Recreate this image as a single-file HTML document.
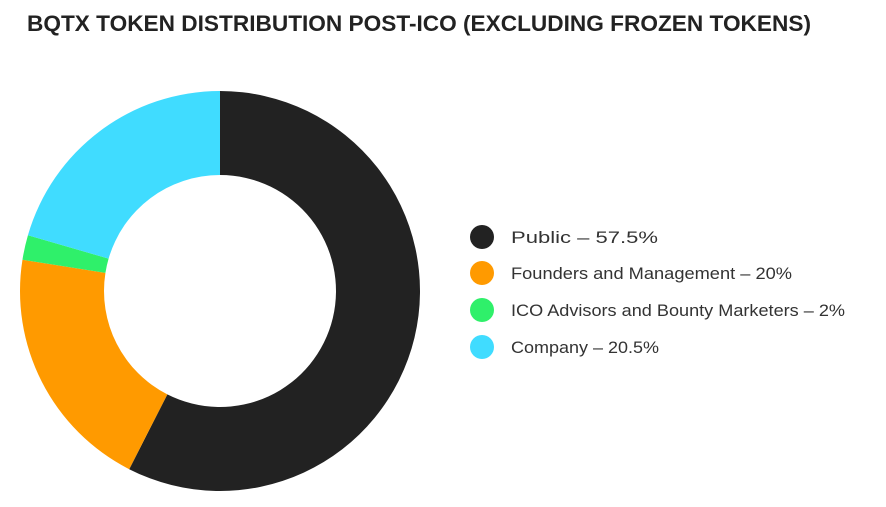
<!DOCTYPE html>
<html><head><meta charset="utf-8"><style>
html,body{margin:0;padding:0;background:#fff;}
svg{display:block;}
</style></head><body>
<svg width="886" height="507" viewBox="0 0 886 507" xmlns="http://www.w3.org/2000/svg">
<text x="27" y="31" font-family="Liberation Sans, sans-serif" font-weight="bold" font-size="22" fill="#222" textLength="784" lengthAdjust="spacingAndGlyphs">BQTX TOKEN DISTRIBUTION POST-ICO (EXCLUDING FROZEN TOKENS)</text>
<path d="M220,91 A200,200 0 1 1 129.2,469.2 L167.34,394.36 A116,116 0 1 0 220,175 Z" fill="#222222"/>
<path d="M129.2,469.2 A200,200 0 0 1 22.46,259.72 L105.43,272.86 A116,116 0 0 0 167.34,394.36 Z" fill="#ff9a00"/>
<path d="M22.46,259.72 A200,200 0 0 1 27.94,235.2 L108.6,258.64 A116,116 0 0 0 105.43,272.86 Z" fill="#2ff06a"/>
<path d="M27.94,235.2 A200,200 0 0 1 220,91 L220,175 A116,116 0 0 0 108.6,258.64 Z" fill="#40dcff"/>
<g font-family="Liberation Sans, sans-serif" font-size="17" fill="#333">
<circle cx="482" cy="237" r="12" fill="#222222"/>
<text x="511" y="243" textLength="147" lengthAdjust="spacingAndGlyphs">Public – 57.5%</text>
<circle cx="482" cy="273" r="12" fill="#ff9a00"/>
<text x="511" y="279" textLength="281" lengthAdjust="spacingAndGlyphs">Founders and Management – 20%</text>
<circle cx="482" cy="310" r="12" fill="#2ff06a"/>
<text x="511" y="316" textLength="334" lengthAdjust="spacingAndGlyphs">ICO Advisors and Bounty Marketers – 2%</text>
<circle cx="482" cy="347" r="12" fill="#40dcff"/>
<text x="511" y="353" textLength="148" lengthAdjust="spacingAndGlyphs">Company – 20.5%</text>
</g>
</svg>
</body></html>
